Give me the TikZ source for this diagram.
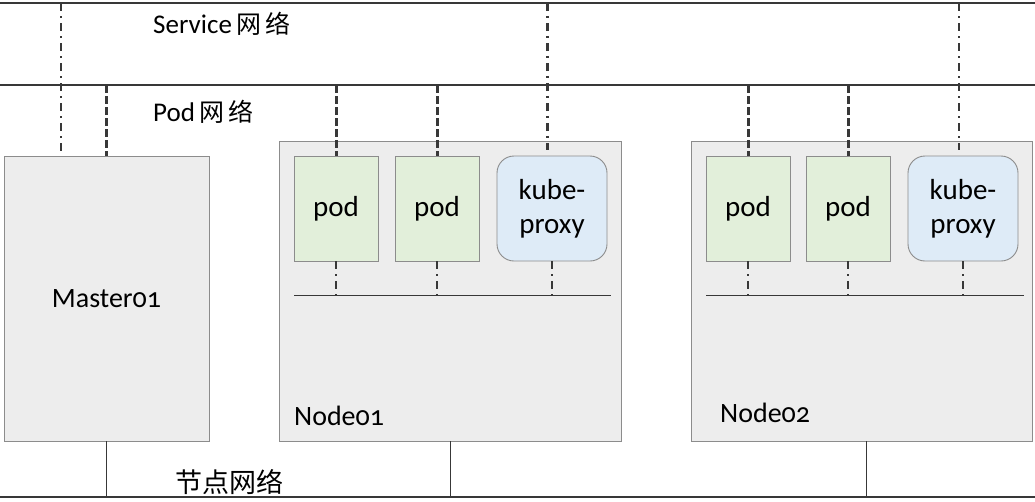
\documentclass[tikz,border=0pt]{standalone}
\usepackage{fontspec}
\setmainfont{Carlito}[Numbers=OldStyle]
\newfontfamily\cjk{Noto Sans CJK SC}
\definecolor{linec}{HTML}{383838}
\definecolor{boxfill}{HTML}{EDEDED}
\definecolor{boxline}{HTML}{8C8C8C}
\definecolor{podfill}{HTML}{E2EFDA}
\definecolor{kpfill}{HTML}{DEEBF7}
\tikzset{
  net/.style={draw=linec, line width=1.1pt},
  hostbox/.style={draw=boxline, fill=boxfill, line width=0.9pt, inner sep=0pt},
  podbox/.style={draw=boxline, fill=podfill, line width=0.9pt, inner sep=0pt, minimum width=84pt, minimum height=105pt, font=\fontsize{29}{32}\selectfont},
  kpbox/.style={draw=boxline, fill=kpfill, line width=0.9pt, inner sep=0pt, rounded corners=17pt, minimum width=110pt, minimum height=105pt, align=center, font=\fontsize{29}{34}\selectfont},
  podlink/.style={draw=linec, line width=3pt, dash pattern=on 8pt off 3pt},
  svclink/.style={draw=linec, line width=2.1pt, dash pattern=on 8pt off 5pt on 2pt off 5pt},
  hostlink/.style={draw=linec, line width=0.9pt},
  lbl/.style={inner sep=0pt, font=\fontsize{27}{30}\selectfont},
}
\begin{document}
\begin{tikzpicture}[x=1pt,y=-1pt]
\useasboundingbox (0,0) rectangle (1035,501);
% network lines
\coordinate (svcL) at (0,3);   \coordinate (svcR) at (1035,3);
\coordinate (podL) at (0,85);  \coordinate (podR) at (1035,85);
\coordinate (hostL) at (0,497); \coordinate (hostR) at (1035,497);
\draw[net] (svcL) -- (svcR);
\draw[net] (podL) -- (podR);
\draw[net] (hostL) -- (hostR);
\node[lbl, anchor=west] (svclbl) at (153,24) {Service\,{\cjk\fontsize{25}{27}\selectfont 网\,络}};
\node[lbl, anchor=west] (podlbl) at (153,112) {Pod\,{\cjk\fontsize{25}{27}\selectfont 网\,络}};
\node[lbl, anchor=west] (hostlbl) at (175,482) {{\cjk\fontsize{27}{29}\selectfont 节点网络}};
% hosts
\node[hostbox, minimum width=205pt, minimum height=285pt] (m) at (106.5,298.5) {};
\node[lbl, font=\fontsize{28}{30}\selectfont] (mlbl) at (106.5,299) {Master01};
\node[hostbox, minimum width=342pt, minimum height=300pt] (n1) at (450,291) {};
\node[hostbox, minimum width=341pt, minimum height=300pt] (n2) at (861.5,291) {};
\node[lbl, anchor=west, font=\fontsize{28}{30}\selectfont] (n1lbl) at (294,416) {Node01};
\node[lbl, anchor=west, font=\fontsize{28}{30}\selectfont] (n2lbl) at (720,413) {Node02};
% pods
\node[podbox] (p11) at (336,208.5) {pod};
\node[podbox] (p12) at (437,208.5) {pod};
\node[kpbox] (k1) at (552,208.5) {kube-\\proxy};
\node[podbox] (p21) at (748,208.5) {pod};
\node[podbox] (p22) at (848,208.5) {pod};
\node[kpbox] (k2) at (963,208.5) {kube-\\proxy};
% inner bridges
\coordinate (b1L) at (294,295); \coordinate (b1R) at (611,295);
\coordinate (b2L) at (706,295); \coordinate (b2R) at (1024,295);
\draw[hostlink] (b1L) -- (b1R);
\draw[hostlink] (b2L) -- (b2R);
\foreach \p/\b in {p11/b1L, p12/b1L, k1/b1L, p21/b2L, p22/b2L, k2/b2L}{
  \draw[svclink] (\p.south) -- (\p.south |- \b);
}
% pod network links
\foreach \p in {p11,p12,p21,p22}{
  \draw[podlink] (\p.north |- podL) -- (\p.north);
}
\draw[podlink] (106,85) coordinate (mp) -- (mp |- m.north);
% service network links
\draw[svclink] (61,3) coordinate (ms) -- (ms |- m.north);
\draw[svclink] (547.5,3) coordinate (s1) -- (547.5,150);
\draw[svclink] (959,3) coordinate (s2) -- (959,150);
% host network links
\draw[hostlink] (mp |- m.south) -- (mp |- hostL);
\draw[hostlink] (450,441) coordinate (h1) -- (h1 |- hostL);
\draw[hostlink] (866,441) coordinate (h2) -- (h2 |- hostL);
\end{tikzpicture}
\end{document}
